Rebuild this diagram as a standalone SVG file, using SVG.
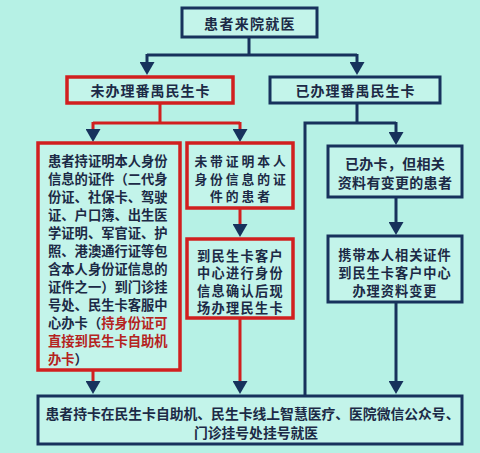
<svg xmlns="http://www.w3.org/2000/svg" width="480" height="453" viewBox="0 0 480 453">
<style>
.bg{fill:#b6f1e5}
.box{fill:#c3f4ea;stroke:#17325c;stroke-width:3}
.rbox{fill:#c3f4ea;stroke:#d11f1f;stroke-width:3.5}
.t{font-family:"Noto Sans CJK SC","Noto Sans",sans-serif;font-weight:bold;fill:#1c2a46;dominant-baseline:central}
.m{text-anchor:middle}
.red{fill:#b5231e}
.cn{fill:none;stroke:#17325c;stroke-width:3}
.cr{fill:none;stroke:#d11f1f;stroke-width:3}
</style>
<defs>
<marker id="ah" viewBox="0 0 13 15" refX="0" refY="7.5" markerWidth="13" markerHeight="15" markerUnits="userSpaceOnUse" orient="auto">
<path d="M0,0 L13,7.5 L0,15 Z" fill="#17325c"/>
</marker>
</defs>
<rect class="bg" x="0" y="0" width="480" height="453"/>
<g id="connectors">
<path class="cn" d="M249,37 V55 M147,55 H357"/>
<path class="cn" d="M147,54 V62" marker-end="url(#ah)"/>
<path class="cn" d="M357,54 V62" marker-end="url(#ah)"/>
<path class="cr" d="M160,103 V123 M93,123 H240"/>
<path class="cr" d="M93,122 V129" marker-end="url(#ah)"/>
<path class="cr" d="M240,122 V129" marker-end="url(#ah)"/>
<path class="cr" d="M240,208 V224" marker-end="url(#ah)"/>
<path class="cr" d="M240,318 V381" marker-end="url(#ah)"/>
<path class="cr" d="M93,370 V381" marker-end="url(#ah)"/>
<path class="cn" d="M357,103 V123 M305,123 H396 M305,121.5 V396"/>
<path class="cn" d="M396,122 V132" marker-end="url(#ah)"/>
<path class="cn" d="M396,197 V222" marker-end="url(#ah)"/>
<path class="cn" d="M396,302 V381" marker-end="url(#ah)"/>
</g>
<g id="n_start">
<rect class="box" x="182" y="8" width="135" height="29"/>
<text class="t m" x="250" y="23" font-size="14" letter-spacing="1.3">患者来院就医</text>
</g>
<g id="n_noncard">
<rect class="rbox" x="67" y="77" width="166" height="26"/>
<text class="t m" x="150.5" y="90" font-size="14" letter-spacing="1">未办理番禺民生卡</text>
</g>
<g id="n_card">
<rect class="box" x="270" y="77" width="170" height="26"/>
<text class="t m" x="355.5" y="90" font-size="14" letter-spacing="1">已办理番禺民生卡</text>
</g>
<g id="n_withid">
<rect class="rbox" x="38" y="143" width="142" height="227"/>
<g class="t" font-size="13.3">
<text x="48" y="160">患者持证明本人身份</text>
<text x="48" y="178">信息的证件（二代身</text>
<text x="48" y="196">份证、社保卡、驾驶</text>
<text x="48" y="214">证、户口簿、出生医</text>
<text x="48" y="232">学证明、军官证、护</text>
<text x="48" y="250">照、港澳通行证等包</text>
<text x="48" y="268">含本人身份证信息的</text>
<text x="48" y="286">证件之一）到门诊挂</text>
<text x="48" y="304">号处、民生卡客服中</text>
<text x="48" y="322">心办卡（<tspan class="red">持身份证可</tspan></text>
<text x="48" y="340" class="red">直接到民生卡自助机</text>
<text x="48" y="358"><tspan class="red">办卡</tspan>）</text>
</g>
</g>
<g id="n_noid">
<rect class="rbox" x="187" y="143" width="106" height="65"/>
<g class="t m" font-size="12.8" letter-spacing="2.9">
<text x="241.5" y="160.5">未带证明本人</text>
<text x="241.5" y="178">身份信息的证</text>
<text x="241.5" y="195.5">件的患者</text>
</g>
</g>
<g id="n_center">
<rect class="rbox" x="187" y="239" width="106" height="79"/>
<g class="t m" font-size="13.2" letter-spacing="1.3">
<text x="240.5" y="255">到民生卡客户</text>
<text x="240.5" y="272.5">中心进行身份</text>
<text x="240.5" y="290">信息确认后现</text>
<text x="240.5" y="307.5">场办理民生卡</text>
</g>
</g>
<g id="n_changed">
<rect class="box" x="328" y="146" width="134" height="51"/>
<g class="t m" font-size="14" letter-spacing="0.3">
<text x="395" y="163">已办卡，但相关</text>
<text x="395" y="182">资料有变更的患者</text>
</g>
</g>
<g id="n_update">
<rect class="box" x="328" y="236" width="134" height="66"/>
<g class="t m" font-size="13.2" letter-spacing="1">
<text x="395" y="254.5">携带本人相关证件</text>
<text x="395" y="272.5">到民生卡客户中心</text>
<text x="395" y="290.5">办理资料变更</text>
</g>
</g>
<g id="n_end">
<rect class="box" x="38" y="396" width="424" height="48"/>
<g class="t m" font-size="13.8">
<text x="252.5" y="413">患者持卡在民生卡自助机、民生卡线上智慧医疗、医院微信公众号、</text>
<text x="256" y="432">门诊挂号处挂号就医</text>
</g>
</g>
</svg>
